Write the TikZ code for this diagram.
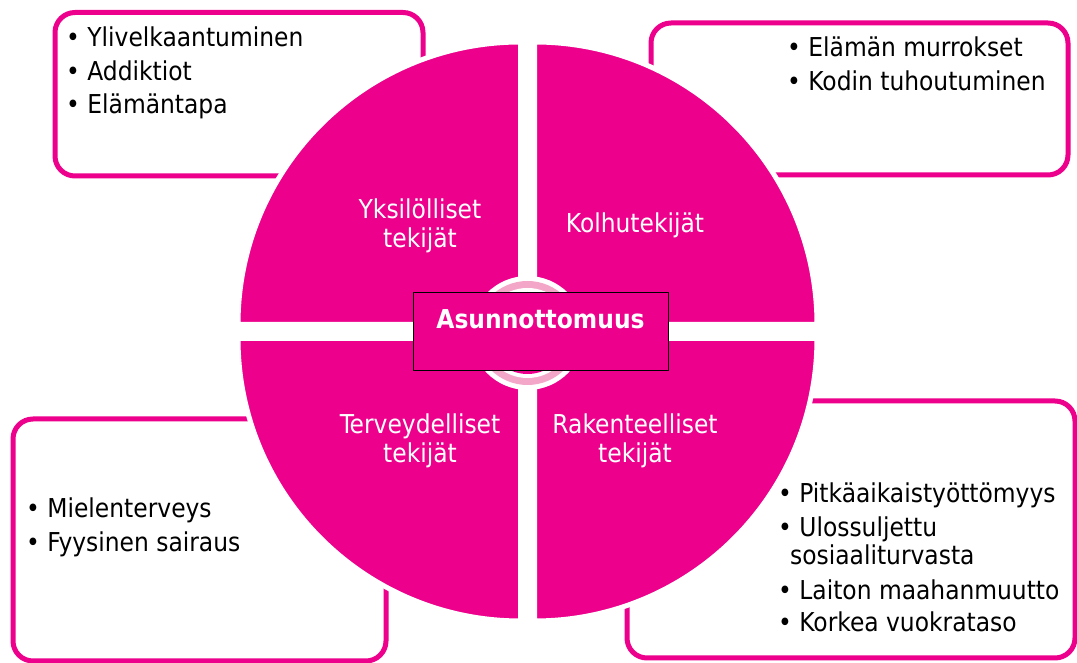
\documentclass[tikz,border=0pt]{standalone}
\usepackage{fontspec}
\setmainfont{DejaVu Sans Condensed}
\usetikzlibrary{calc}
\definecolor{hotpink}{RGB}{236,0,140}
\definecolor{ringpink}{RGB}{244,166,201}
\tikzset{
  factorbox/.style={draw=hotpink,line width=5pt,rounded corners=20pt,fill=white},
  quad/.style={fill=hotpink,draw=white,line width=5pt},
  item/.style={anchor=base west,inner sep=0pt,font=\fontsize{26pt}{31pt}\selectfont},
  quadlabel/.style={anchor=base,inner sep=0pt,text=white,font=\fontsize{26pt}{31pt}\selectfont},
  hub/.style={draw=black,line width=0.8pt,fill=hotpink,minimum width=255pt,minimum height=78pt,inner sep=0pt}
}
\begin{document}
\begin{tikzpicture}[x=1pt,y=1pt]
  \useasboundingbox (0,0) rectangle (1077,663);
  \coordinate (ctr) at (527.5,331.5);
  % boxes behind the circle
  \draw[factorbox] (55,650.5) rectangle (423,487);
  \draw[factorbox] (651,640) rectangle (1068,488);
  \draw[factorbox] (13,244) rectangle (386,2);
  \draw[factorbox] (627,262) rectangle (1075,5);
  % four quadrants
  \foreach \a/\dx/\dy in {0/1/1,90/-1/1,180/-1/-1,270/1/-1}{
    \filldraw[quad] ($(ctr)+(\dx*7,\dy*7)$) -- ++(\a:282.5pt)
      arc[start angle=\a,end angle=\a+90,radius=282.5pt] -- cycle;
  }
  % ring in the middle
  \fill[white] (527.5,330) circle (57pt);
  \fill[ringpink] (527.5,330) circle (52pt);
  \fill[white] (527.5,330) circle (45pt);
  \fill[hotpink] (527.5,330) circle (41pt);
  \node[hub] (hub) at (540.5,332) {};
  \node[anchor=base,inner sep=0pt,text=white,font=\fontsize{26pt}{31pt}\selectfont\bfseries] (hublabel) at (540.5,334) {Asunnottomuus};
  % quadrant labels
  \node[quadlabel] (yks1) at (420,444) {Yksilölliset};
  \node[quadlabel] (yks2) at (420,415) {tekijät};
  \node[quadlabel] (kol) at (635,430) {Kolhutekijät};
  \node[quadlabel] (ter1) at (420,229) {Terveydelliset};
  \node[quadlabel] (ter2) at (420,200) {tekijät};
  \node[quadlabel] (rak1) at (635,229) {Rakenteelliset};
  \node[quadlabel] (rak2) at (635,200) {tekijät};
  % box items
  \node[item] (tl1) at (66,616) {• Ylivelkaantuminen};
  \node[item] (tl2) at (66,582) {• Addiktiot};
  \node[item] (tl3) at (66,549) {• Elämäntapa};
  \node[item] (tr1) at (787,606) {• Elämän murrokset};
  \node[item] (tr2) at (787,572) {• Kodin tuhoutuminen};
  \node[item] (bl1) at (26,145) {• Mielenterveys};
  \node[item] (bl2) at (26,111) {• Fyysinen sairaus};
  \node[item] (br1) at (778,160) {• Pitkäaikaistyöttömyys};
  \node[item] (br2) at (778,126) {• Ulossuljettu};
  \node[item] (br2b) at (790,98) {sosiaaliturvasta};
  \node[item] (br3) at (778,63) {• Laiton maahanmuutto};
  \node[item] (br4) at (778,31) {• Korkea vuokrataso};
\end{tikzpicture}
\end{document}
